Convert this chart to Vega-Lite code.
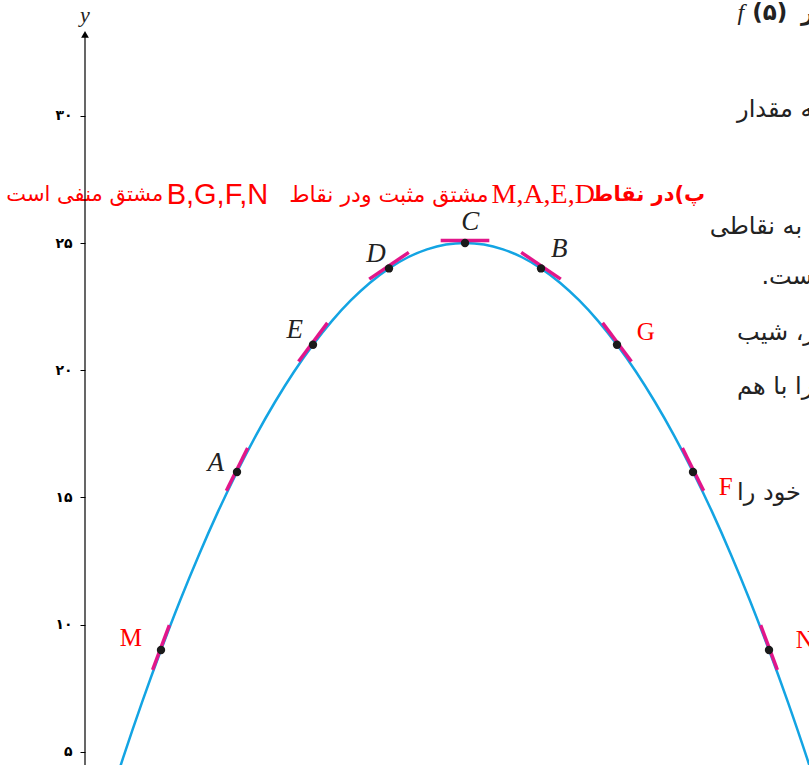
{
  "$schema": "https://vega.github.io/schema/vega-lite/v6.json",
  "width": 809,
  "height": 765,
  "autosize": {"type": "none"},
  "padding": 0,
  "background": "white",
  "config": {"view": {"stroke": null}},
  "datasets": {
    "curve": [
      {"x": 0.4, "y": 3.84}, {"x": 0.5, "y": 4.75}, {"x": 0.75, "y": 6.94}, {"x": 1, "y": 9},
      {"x": 1.25, "y": 10.94}, {"x": 1.5, "y": 12.75}, {"x": 1.75, "y": 14.44}, {"x": 2, "y": 16},
      {"x": 2.25, "y": 17.44}, {"x": 2.5, "y": 18.75}, {"x": 2.75, "y": 19.94}, {"x": 3, "y": 21},
      {"x": 3.25, "y": 21.94}, {"x": 3.5, "y": 22.75}, {"x": 3.75, "y": 23.44}, {"x": 4, "y": 24},
      {"x": 4.25, "y": 24.44}, {"x": 4.5, "y": 24.75}, {"x": 4.75, "y": 24.94}, {"x": 5, "y": 25},
      {"x": 5.25, "y": 24.94}, {"x": 5.5, "y": 24.75}, {"x": 5.75, "y": 24.44}, {"x": 6, "y": 24},
      {"x": 6.25, "y": 23.44}, {"x": 6.5, "y": 22.75}, {"x": 6.75, "y": 21.94}, {"x": 7, "y": 21},
      {"x": 7.25, "y": 19.94}, {"x": 7.5, "y": 18.75}, {"x": 7.75, "y": 17.44}, {"x": 8, "y": 16},
      {"x": 8.25, "y": 14.44}, {"x": 8.5, "y": 12.75}, {"x": 8.75, "y": 10.94}, {"x": 9, "y": 9},
      {"x": 9.25, "y": 6.94}, {"x": 9.5, "y": 4.75}, {"x": 9.6, "y": 3.84}
    ],
    "tangents": [
      {"seg": "M", "x": 0.89, "y": 8.22}, {"seg": "M", "x": 1.11, "y": 9.98},
      {"seg": "A", "x": 1.86, "y": 15.26}, {"seg": "A", "x": 2.14, "y": 16.94},
      {"seg": "E", "x": 2.81, "y": 20.34}, {"seg": "E", "x": 3.19, "y": 21.86},
      {"seg": "D", "x": 3.74, "y": 23.58}, {"seg": "D", "x": 4.26, "y": 24.63},
      {"seg": "C", "x": 4.68, "y": 25.1}, {"seg": "C", "x": 5.32, "y": 25.1},
      {"seg": "B", "x": 5.74, "y": 24.63}, {"seg": "B", "x": 6.26, "y": 23.58},
      {"seg": "G", "x": 6.81, "y": 21.86}, {"seg": "G", "x": 7.19, "y": 20.34},
      {"seg": "F", "x": 7.86, "y": 16.94}, {"seg": "F", "x": 8.14, "y": 15.26},
      {"seg": "N", "x": 8.89, "y": 9.98}, {"seg": "N", "x": 9.11, "y": 8.22}
    ],
    "pts": [
      {"name": "M", "x": 1, "y": 9}, {"name": "A", "x": 2, "y": 16}, {"name": "E", "x": 3, "y": 21},
      {"name": "D", "x": 4, "y": 24}, {"name": "C", "x": 5, "y": 25}, {"name": "B", "x": 6, "y": 24},
      {"name": "G", "x": 7, "y": 21}, {"name": "F", "x": 8, "y": 16}, {"name": "N", "x": 9, "y": 9}
    ],
    "lbl": [
      {"name": "C", "x": 5.07, "y": 25.83, "kind": "italic"},
      {"name": "D", "x": 3.83, "y": 24.57, "kind": "italic"},
      {"name": "B", "x": 6.24, "y": 24.76, "kind": "italic"},
      {"name": "E", "x": 2.76, "y": 21.58, "kind": "italic"},
      {"name": "A", "x": 1.72, "y": 16.35, "kind": "italic"},
      {"name": "M", "x": 0.605, "y": 9.47, "kind": "red"},
      {"name": "G", "x": 7.38, "y": 21.5, "kind": "red"},
      {"name": "F", "x": 8.43, "y": 15.41, "kind": "red"},
      {"name": "N", "x": 9.47, "y": 9.39, "kind": "red"}
    ],
    "yaxis": [{"x": 0, "y": 4.3, "y2": 33.2}],
    "arrow": [{"x": 0, "y": 33.2}],
    "ylab": [{"x": 0, "y": 33.96, "t": "y"}],
    "caption": [
      {"part": "p1", "x": 8.16, "y": 26.89, "t": "پ)در نقاط"},
      {"part": "p2", "x": 6.71, "y": 26.89, "t": "M,A,E,D"},
      {"part": "p3", "x": 5.31, "y": 26.89, "t": "مشتق مثبت ودر نقاط"},
      {"part": "p4", "x": 2.41, "y": 26.89, "t": "B,G,F,N"},
      {"part": "p5", "x": 1.03, "y": 26.89, "t": "مشتق منفی است"}
    ],
    "side": [
      {"x": 8.58, "y": 30.23, "t": "به مقدار"},
      {"x": 8.22, "y": 25.63, "t": "به نقاطی"},
      {"x": 8.9, "y": 23.66, "t": ".است"},
      {"x": 8.58, "y": 21.46, "t": "ر، شیب"},
      {"x": 8.58, "y": 19.34, "t": "را با هم"},
      {"x": 8.58, "y": 15.17, "t": "خود را"}
    ],
    "ftop": [{"x": 8.78, "y": 34.04, "t": "(۵)"}, {"x": 9.42, "y": 34.04, "t": "ر"}],
    "fital": [{"x": 8.63, "y": 34.04, "t": "f"}]
  },
  "encoding": {
    "x": {"field": "x", "type": "quantitative", "scale": {"domain": [-1.11842, 9.52632], "nice": false, "zero": false}, "axis": null},
    "y": {"field": "y", "type": "quantitative", "scale": {"domain": [4.481, 34.552], "nice": false, "zero": false},
      "axis": {"orient": "left", "offset": -85, "domain": false, "grid": false, "ticks": true, "tickSize": 5, "tickColor": "black", "tickWidth": 1,
        "values": [5, 10, 15, 20, 25, 30],
        "labelExpr": "datum.value == 5 ? '۵' : datum.value == 10 ? '۱۰' : datum.value == 15 ? '۱۵' : datum.value == 20 ? '۲۰' : datum.value == 25 ? '۲۵' : '۳۰'",
        "labelFont": "DejaVu Sans", "labelFontSize": 14, "labelFontWeight": "bold", "labelColor": "black", "labelPadding": 8, "title": null}}
  },
  "layer": [
    {"data": {"name": "caption"}, "transform": [{"filter": "datum.part == 'p1'"}],
     "mark": {"type": "text", "align": "right", "baseline": "middle", "font": "DejaVu Sans", "fontSize": 21, "fontWeight": "bold", "color": "#ff0000"},
     "encoding": {"text": {"field": "t"}}},
    {"data": {"name": "caption"}, "transform": [{"filter": "datum.part == 'p2'"}],
     "mark": {"type": "text", "align": "right", "baseline": "middle", "font": "Liberation Serif", "fontSize": 28, "color": "#ff0000"},
     "encoding": {"text": {"field": "t"}}},
    {"data": {"name": "caption"}, "transform": [{"filter": "datum.part == 'p3'"}],
     "mark": {"type": "text", "align": "right", "baseline": "middle", "font": "DejaVu Sans", "fontSize": 22, "color": "#ff0000"},
     "encoding": {"text": {"field": "t"}}},
    {"data": {"name": "caption"}, "transform": [{"filter": "datum.part == 'p5'"}],
     "mark": {"type": "text", "align": "right", "baseline": "middle", "font": "DejaVu Sans", "fontSize": 21, "color": "#ff0000"},
     "encoding": {"text": {"field": "t"}}},
    {"data": {"name": "caption"}, "transform": [{"filter": "datum.part == 'p4'"}],
     "mark": {"type": "text", "align": "right", "baseline": "middle", "font": "Liberation Sans", "fontSize": 29, "color": "#ff0000"},
     "encoding": {"text": {"field": "t"}}},
    {"data": {"name": "side"},
     "mark": {"type": "text", "align": "left", "baseline": "middle", "font": "DejaVu Sans", "fontSize": 24, "color": "#222222"},
     "encoding": {"text": {"field": "t"}}},
    {"data": {"name": "ftop"},
     "mark": {"type": "text", "align": "left", "baseline": "middle", "font": "DejaVu Sans", "fontSize": 23, "fontWeight": "bold", "color": "#222222"},
     "encoding": {"text": {"field": "t"}}},
    {"data": {"name": "fital"},
     "mark": {"type": "text", "align": "center", "baseline": "middle", "font": "Liberation Serif", "fontSize": 24, "fontStyle": "italic", "color": "#222222"},
     "encoding": {"text": {"field": "t"}}},
    {"data": {"name": "yaxis"},
     "mark": {"type": "rule", "color": "black", "strokeWidth": 1.2},
     "encoding": {"y2": {"field": "y2"}}},
    {"data": {"name": "arrow"},
     "mark": {"type": "point", "shape": "triangle-up", "filled": true, "color": "black", "size": 60, "opacity": 1},
     "encoding": {}},
    {"data": {"name": "ylab"},
     "mark": {"type": "text", "align": "center", "baseline": "middle", "font": "Liberation Serif", "fontSize": 22, "fontStyle": "italic", "color": "#222222"},
     "encoding": {"text": {"field": "t"}}},
    {"data": {"name": "curve"},
     "mark": {"type": "line", "color": "#13A4E3", "strokeWidth": 2.5, "interpolate": "monotone", "clip": true},
     "encoding": {}},
    {"data": {"name": "tangents"},
     "mark": {"type": "line", "color": "#E2168A", "strokeWidth": 3.5, "strokeCap": "butt"},
     "encoding": {"detail": {"field": "seg"}}},
    {"data": {"name": "pts"},
     "mark": {"type": "point", "filled": true, "color": "#1a1a1a", "size": 70, "opacity": 1},
     "encoding": {}},
    {"data": {"name": "lbl"}, "transform": [{"filter": "datum.kind == 'italic'"}],
     "mark": {"type": "text", "align": "center", "baseline": "middle", "font": "Liberation Serif", "fontSize": 27, "fontStyle": "italic", "color": "#222222"},
     "encoding": {"text": {"field": "name"}}},
    {"data": {"name": "lbl"}, "transform": [{"filter": "datum.kind == 'red'"}],
     "mark": {"type": "text", "align": "center", "baseline": "middle", "font": "Liberation Serif", "fontSize": 25, "color": "#ff0000"},
     "encoding": {"text": {"field": "name"}}}
  ]
}
